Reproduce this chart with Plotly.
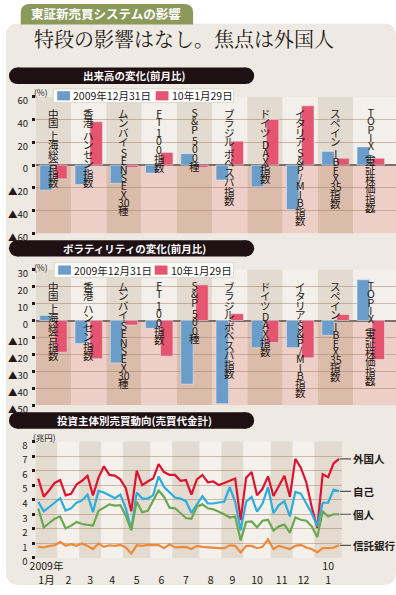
import plotly.graph_objects as go

W, H = 396, 595

# ---------------- data ----------------
categories = ["中国 上海総合指数", "香港 ハンセン指数", "ムンバイ SENSEX30種", "FT 100指数", "S&P 500種",
              "ブラジル ボベスパ指数", "ドイツ DAX指数", "イタリア S&P/MIB指数", "スペイン IBEX35指数",
              "TOPIX(東証株価指数)"]
series_names = ["2009年12月31日", "10年1月29日"]
volume_dec31 = [-22, -17, -16, -7, 10, -13, -19, -39, 12, 16]
volume_jan29 = [-12, 38, -2, 11, -2, 21, 40, 52, 6, 6]
volat_dec31 = [3, -13.5, -25, -4.6, -37.5, -49, -16, -16, -8.7, 24]
volat_jan29 = [-18.7, -22.5, -2.7, -21, 21, 4, -13, -22, 3.5, -23]

month_labels = ["2009年<br>1月", "<br>2", "<br>3", "<br>4", "<br>5", "<br>6", "<br>7", "<br>8",
                "<br>9", "<br>10", "<br>11", "<br>12", "10<br>1"]
weeks_per_month = [4, 4, 4, 4, 5, 4, 5, 4, 4, 5, 4, 4, 5]

line_names = ["外国人", "自己", "個人", "信託銀行"]
foreign = [5.45, 4.2, 4.65, 5.15, 5.35, 4.3, 4.4, 5.05, 5.3, 5.65,
           4.3, 5.5, 6.3, 5.7, 5.65, 5.4, 4.8, 3.2, 6.0, 5.0,
           5.25, 5.45, 6.45, 5.9, 5.7, 5.7, 5.3, 5.35, 4.35, 5.4,
           5.7, 5.2, 5.25, 5.0, 5.15, 5.3, 5.45, 2.6, 5.5, 5.9,
           4.3, 4.75, 5.6, 4.25, 5.0, 5.65, 4.2, 6.8, 6.2, 5.2,
           3.5, 2.05, 5.75, 5.55, 6.5, 6.8]
dealer = [3.85, 3.2, 3.5, 3.8, 4.1, 3.25, 3.4, 3.8, 3.95, 4.35,
          3.15, 4.6, 4.5, 4.3, 4.1, 4.35, 3.4, 1.95, 4.5, 4.08,
          4.08, 4.3, 5.6, 4.87, 4.53, 4.15, 4.08, 3.9, 3.1, 3.63,
          4.24, 3.74, 3.74, 3.81, 3.86, 4.87, 3.86, 1.9, 3.86, 4.19,
          3.18, 3.74, 4.87, 3.07, 3.63, 3.9, 2.85, 4.53, 4.42, 3.74,
          3.07, 2.17, 3.79, 3.79, 4.69, 4.57]
individual = [3.4, 2.1, 2.4, 2.7, 2.85, 2.02, 2.22, 2.47, 2.33, 2.29,
              2.22, 3.23, 3.45, 3.68, 3.59, 3.63, 2.9, 1.9, 3.86, 3.14,
              3.23, 3.97, 4.64, 4.19, 3.45, 3.41, 3.07, 2.74, 2.69, 3.52,
              3.68, 3.41, 3.34, 3.18, 3.0, 2.78, 2.85, 1.2, 2.47, 2.51,
              2.1, 2.56, 2.62, 1.88, 2.17, 2.29, 1.73, 2.78, 2.62, 2.56,
              2.17, 1.43, 3.18, 2.85, 3.0, 3.0]
trust = [0.76, 0.72, 0.83, 0.87, 1.1, 0.83, 0.94, 0.83, 0.99, 0.83,
         0.61, 0.99, 0.76, 0.87, 0.83, 0.9, 0.72, 0.31, 0.87, 0.83,
         0.9, 0.9, 0.88, 0.67, 0.94, 0.72, 0.76, 0.76, 0.61, 0.83,
         0.76, 0.72, 0.72, 0.67, 0.67, 0.87, 0.83, 0.38, 0.83, 0.83,
         0.67, 0.76, 1.28, 0.61, 0.83, 0.72, 0.61, 0.83, 0.9, 0.72,
         0.61, 0.38, 0.67, 0.67, 0.72, 0.87]

# ---------------- style ----------------
FONT = "Noto Sans CJK JP"
INK = "#231815"
BLUE = "#6b9dcb"
RED = "#e5556f"
LINE_COLORS = ["#e0132f", "#2badde", "#6aa84f", "#ee8a3a"]
UP_DARK, UP_LIGHT = "#e3dbcf", "#f3f0eb"
LO_DARK, LO_LIGHT = "#dbbcab", "#eecfc7"
GRID = "rgba(150,118,95,0.45)"


def px(x):
    return x / W


def py(y):
    return 1 - y / H


fig = go.Figure()

fig.add_trace(go.Bar(x=categories, y=volume_dec31, name=series_names[0], marker_color=BLUE,
                     xaxis="x", yaxis="y", showlegend=False, hoverinfo="skip"))
fig.add_trace(go.Bar(x=categories, y=volume_jan29, name=series_names[1], marker_color=RED,
                     xaxis="x", yaxis="y", showlegend=False, hoverinfo="skip"))
fig.add_trace(go.Bar(x=categories, y=volat_dec31, name=series_names[0], marker_color=BLUE,
                     xaxis="x2", yaxis="y2", showlegend=False, hoverinfo="skip"))
fig.add_trace(go.Bar(x=categories, y=volat_jan29, name=series_names[1], marker_color=RED,
                     xaxis="x2", yaxis="y2", showlegend=False, hoverinfo="skip"))

weeks = list(range(len(foreign)))
for name, vals, col in zip(line_names, [foreign, dealer, individual, trust], LINE_COLORS):
    fig.add_trace(go.Scatter(x=weeks, y=vals, mode="lines", name=name,
                             line=dict(color=col, width=2.2), xaxis="x3", yaxis="y3",
                             showlegend=False, hoverinfo="skip"))

shapes = []
ann = []


def rpath(x0, y0, x1, y1, r, bottom=True):
    s = (f"M{px(x0)},{py(y0 + r)} Q{px(x0)},{py(y0)} {px(x0 + r)},{py(y0)} L{px(x1 - r)},{py(y0)} "
         f"Q{px(x1)},{py(y0)} {px(x1)},{py(y0 + r)}")
    if bottom:
        s += (f" L{px(x1)},{py(y1 - r)} Q{px(x1)},{py(y1)} {px(x1 - r)},{py(y1)} L{px(x0 + r)},{py(y1)} "
              f"Q{px(x0)},{py(y1)} {px(x0)},{py(y1 - r)} Z")
    else:
        s += f" L{px(x1)},{py(y1)} L{px(x0)},{py(y1)} Z"
    return s


def text_at(text, x, y, size, color=INK, xanchor="center", bold=False, family=FONT):
    f = dict(family=family, size=size, color=color)
    if bold:
        f["weight"] = "bold"
    ann.append(dict(text=text, x=px(x), y=py(y), xref="paper", yref="paper", xanchor=xanchor,
                    yanchor="middle", showarrow=False, font=f))


# outer background & tab
shapes.append(dict(type="path", xref="paper", yref="paper", layer="below",
                   path=rpath(0, 20, W, H, 13), fillcolor="#eeeae3", line=dict(width=0)))
shapes.append(dict(type="path", xref="paper", yref="paper", layer="below",
                   path=rpath(15, 0, 190, 21, 9, bottom=False), fillcolor="#8b9a5b", line=dict(width=0)))
text_at("東証新売買システムの影響", 102, 10, 12.5, color="white", bold=True)
text_at("特段の影響はなし。焦点は外国人", 26, 35, 20, xanchor="left",
        family="Noto Serif CJK JP, " + FONT)


def pill(x0, y0, x1, y1, text):
    h = y1 - y0
    r = h / 2
    shapes.append(dict(type="rect", xref="paper", yref="paper", x0=px(x0 + r), x1=px(x1 - r),
                       y0=py(y1), y1=py(y0), fillcolor="#1e1013", line=dict(width=0), layer="below"))
    for cx in (x0, x1 - h):
        shapes.append(dict(type="circle", xref="paper", yref="paper", x0=px(cx), x1=px(cx + h),
                           y0=py(y1), y1=py(y0), fillcolor="#1e1013", line=dict(width=0), layer="below"))
    text_at(text, 130, (y0 + y1) / 2, 10.5, color="white", bold=True)


pill(3, 65, 252, 82, "出来高の変化(前月比)")
pill(3, 242, 252, 258.5, "ボラティリティの変化(前月比)")
pill(3, 418, 252, 435, "投資主体別売買動向(売買代金計)")

# column bands panel 1 & 2
n = len(categories)
xmax = 9.715
for axn, (lo, hi) in (("", (-60, 60)), ("2", (-50, 30))):
    for i in range(n):
        x0 = i - 0.5
        x1 = i + 0.5 if i < n - 1 else xmax
        dark = (i % 2 == 0)
        shapes.append(dict(type="rect", xref="x" + axn, yref="y" + axn, x0=x0, x1=x1, y0=0, y1=hi,
                           fillcolor=UP_DARK if dark else UP_LIGHT, line=dict(width=0), layer="below"))
        shapes.append(dict(type="rect", xref="x" + axn, yref="y" + axn, x0=x0, x1=x1, y0=lo, y1=0,
                           fillcolor=LO_DARK if dark else LO_LIGHT, line=dict(width=0), layer="below"))

# month bands panel 3
start = 0
month_centers = []
for m, nw in enumerate(weeks_per_month):
    shapes.append(dict(type="rect", xref="x3", yref="y3 domain", x0=start - 0.5, x1=start + nw - 0.5,
                       y0=0, y1=1, fillcolor=UP_DARK if m % 2 == 0 else "#f4f1ec",
                       line=dict(width=0), layer="below"))
    month_centers.append(start + (nw - 1) / 2)
    start += nw


def legend(x0, y0, x1, y1, sw1, sw2):
    shapes.append(dict(type="rect", xref="paper", yref="paper", x0=px(x0), x1=px(x1), y0=py(y1), y1=py(y0),
                       fillcolor="white", line=dict(color="#d6cfc4", width=0.8)))
    ym = (y0 + y1) / 2
    for sx, col, txt in ((sw1, BLUE, series_names[0]), (sw2, RED, series_names[1])):
        shapes.append(dict(type="rect", xref="paper", yref="paper", x0=px(sx), x1=px(sx + 13),
                           y0=py(ym + 4.7), y1=py(ym - 4.7), fillcolor=col, line=dict(width=0)))
        text_at(txt, sx + 14.5, ym, 10.5, xanchor="left")


legend(48, 87, 231, 101, 52, 152)
legend(49, 265, 231, 280, 53, 151)

text_at("(%)", 26, 90, 8.5, xanchor="left")
text_at("(%)", 26, 269, 8.5, xanchor="left")
text_at("(兆円)", 25, 443.5, 8.5, xanchor="left")

# vertical category labels: runs of characters stacked with <br>
VERT = {"(": "︵", ")": "︶", "&": "&amp;"}
STEP = {"cjk": 9.4, "lat": 8.3, "par": 7.0}


def vertical_runs(text):
    """split into runs of (kind, [cells]); None marks a small gap (space)"""
    cells, i = [], 0
    while i < len(text):
        ch = text[i]
        if ch.isdigit():
            j = i
            while j < len(text) and text[j].isdigit():
                j += 1
            run = text[i:j]
            cells.extend([run] if len(run) == 2 else list(run))
            i = j
        else:
            cells.append(ch)
            i += 1
    runs = []
    for c in cells:
        if c == " ":
            runs.append(None)
            continue
        kind = "par" if c in "()" else ("lat" if c.isascii() else "cjk")
        if runs and runs[-1] is not None and runs[-1][0] == kind:
            runs[-1][1].append(c)
        else:
            runs.append((kind, [c]))
    return runs


for axn, top in (("x", 107.5), ("x2", 284.5)):
    for i, cat in enumerate(categories):
        y = top
        for run in vertical_runs(cat):
            if run is None:
                y += 4
                continue
            kind, cells = run
            st = STEP[kind]
            txt = "<br>".join(f'<span style="font-size:10.5px">{VERT.get(c, c)}</span>' for c in cells)
            ann.append(dict(text=txt, x=i, xref=axn, y=py(y + len(cells) * st / 2), yref="paper",
                            showarrow=False, xanchor="center", yanchor="middle", borderpad=0,
                            font=dict(family=FONT, size=st / 1.3, color=INK)))
            y += len(cells) * st

# line end labels
for name, vals in zip(line_names, [foreign, dealer, individual, trust]):
    ann.append(dict(text=name, x=weeks[-1], y=vals[-1], xref="x3", yref="y3", xanchor="left",
                    yanchor="middle", showarrow=True, ax=12, ay=0, arrowhead=0, arrowwidth=1.2,
                    arrowcolor="#555555", standoff=1,
                    font=dict(family=FONT, size=10.5, color=INK, weight="bold")))


def fmt(v):
    return ("▲" + str(abs(v))) if v < 0 else str(v)


yt1 = list(range(-60, 61, 20))
yt2 = list(range(-50, 31, 10))
tickfont = dict(family=FONT, size=9.5, color=INK)
yax_common = dict(showgrid=True, gridcolor=GRID, gridwidth=1, ticks="outside", ticklen=3, tickwidth=3,
                  tickcolor=INK, tickfont=tickfont, ticklabelshift=4, ticklabelstandoff=2,
                  showline=False, fixedrange=True)

fig.update_layout(
    width=W, height=H, margin=dict(l=0, r=0, t=0, b=0),
    paper_bgcolor="white", plot_bgcolor="rgba(0,0,0,0)",
    barmode="group", bargap=0.15, bargroupgap=0.17,
    hovermode=False, showlegend=False,
    xaxis=dict(domain=[px(30.3), 1], range=[-0.5, xmax], showticklabels=False, showgrid=False,
               zeroline=False, fixedrange=True),
    yaxis=dict(domain=[py(235), py(95)], range=[-60, 60], tickvals=yt1, ticktext=[fmt(v) for v in yt1],
               zeroline=True, zerolinecolor="#7d6e66", zerolinewidth=1.5, **yax_common),
    xaxis2=dict(domain=[px(30.3), 1], range=[-0.5, xmax], showticklabels=False, showgrid=False,
                zeroline=False, anchor="y2", fixedrange=True),
    yaxis2=dict(domain=[py(411), py(272)], range=[-50, 30], tickvals=yt2, ticktext=[fmt(v) for v in yt2],
                zeroline=True, zerolinecolor="#7d6e66", zerolinewidth=1.5, anchor="x2", **yax_common),
    xaxis3=dict(domain=[px(30), px(341)], range=[-0.5, len(weeks) - 0.5], tickvals=month_centers,
                ticktext=month_labels, ticks="", tickangle=0, ticklabelstandoff=1, showgrid=False,
                zeroline=False, anchor="y3",
                tickfont=dict(family=FONT, size=10.5, color=INK), fixedrange=True),
    yaxis3=dict(domain=[py(567.3), py(448)], range=[0, 8], tickvals=list(range(0, 9)),
                zeroline=False, anchor="x3", **yax_common),
    shapes=shapes, annotations=ann,
)

# page margin reset (body has a default 8px margin); run both early and after plotting
RESET = "document.body.style.margin='0';document.documentElement.style.margin='0';"
fig.write_html("out.html", post_script=RESET,
               include_mathjax="data:text/javascript," + RESET + "//.js",
               config={"displayModeBar": False, "responsive": False})
